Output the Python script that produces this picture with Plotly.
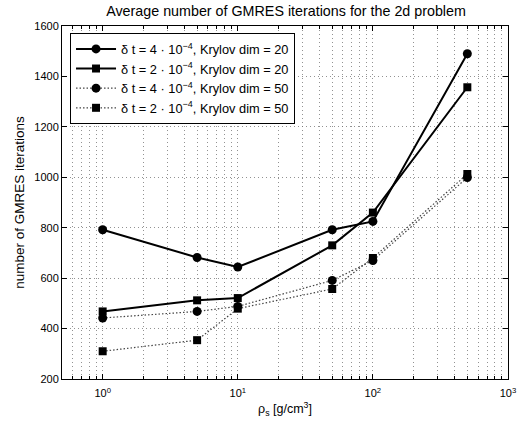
import plotly.graph_objects as go

# density values (g/cm^3)
rho = [1, 5, 10, 50, 100, 500]

# average GMRES iteration counts
it_dt4_k20 = [792, 682, 644, 792, 825, 1490]
it_dt2_k20 = [468, 512, 521, 730, 860, 1357]
it_dt4_k50 = [442, 468, 488, 591, 670, 999]
it_dt2_k50 = [310, 354, 479, 557, 680, 1013]

names = [
    "δ t = 4 · 10<sup>−4</sup>, Krylov dim = 20",
    "δ t = 2 · 10<sup>−4</sup>, Krylov dim = 20",
    "δ t = 4 · 10<sup>−4</sup>, Krylov dim = 50",
    "δ t = 2 · 10<sup>−4</sup>, Krylov dim = 50",
]
series = [it_dt4_k20, it_dt2_k20, it_dt4_k50, it_dt2_k50]
dashes = ["solid", "solid", "1.5px,2px", "1.5px,2px"]
line_colors = ["black", "black", "#444444", "#444444"]
symbols = ["circle", "square", "circle", "square"]
sizes = [9, 8, 9, 8]
widths = [2, 2, 1.2, 1.2]

major_x = [1, 10, 100, 1000]
major_x_text = ["10<sup>0</sup>", "10<sup>1</sup>", "10<sup>2</sup>", "10<sup>3</sup>"]
minor_x = [m * 10 ** k for k in range(-1, 3) for m in range(2, 10) if 0.5 <= m * 10 ** k <= 1000]

fig = go.Figure()
for ys, nm, d, c, s, sz, w in zip(series, names, dashes, line_colors, symbols, sizes, widths):
    fig.add_trace(go.Scatter(
        x=rho, y=ys, name=nm, mode="lines+markers",
        line=dict(color=c, width=w, dash=d),
        marker=dict(symbol=s, size=sz, color="black"),
    ))

grid = "rgba(110,110,110,0.75)"
gdash = "1px,3px"
fig.update_layout(
    width=522, height=424,
    margin=dict(l=62, r=14, t=26, b=45),
    paper_bgcolor="white", plot_bgcolor="white",
    font=dict(family="Liberation Sans, Arial, sans-serif", size=11, color="black"),
    title=dict(text="Average number of GMRES iterations for the 2d problem",
               x=0.548, xanchor="center", y=0.975, yanchor="middle",
               font=dict(size=14.3)),
    legend=dict(x=0.018, y=0.98, xanchor="left", yanchor="top",
                bgcolor="white", bordercolor="black", borderwidth=1,
                font=dict(size=12.8), tracegroupgap=0, itemwidth=40),
    xaxis=dict(
        type="log", range=[-0.30103, 3], automargin=False,
        tickmode="array", tickvals=major_x, ticktext=major_x_text,
        ticks="inside", ticklen=5, tickcolor="black", ticklabelstandoff=4,
        showline=True, linecolor="black", linewidth=1, mirror="ticks",
        showgrid=True, gridcolor=grid, griddash=gdash, gridwidth=1,
        zeroline=False,
        minor=dict(tickmode="array", tickvals=minor_x, ticks="inside", ticklen=3,
                   tickcolor="black", showgrid=True, gridcolor=grid, griddash=gdash),
        title=dict(text="ρ<sub>s</sub> [g/cm<sup>3</sup>]", font=dict(size=12.5), standoff=6),
        tickfont=dict(size=11),
    ),
    yaxis=dict(
        range=[200, 1600], dtick=200, tick0=200, automargin=False,
        ticks="inside", ticklen=5, tickcolor="black",
        showline=True, linecolor="black", linewidth=1, mirror="ticks",
        showgrid=True, gridcolor=grid, griddash=gdash, gridwidth=1,
        zeroline=False,
        title=dict(text="number of GMRES iterations", font=dict(size=13.5), standoff=6),
        tickfont=dict(size=11),
    ),
)

fig.write_html("out.html")
